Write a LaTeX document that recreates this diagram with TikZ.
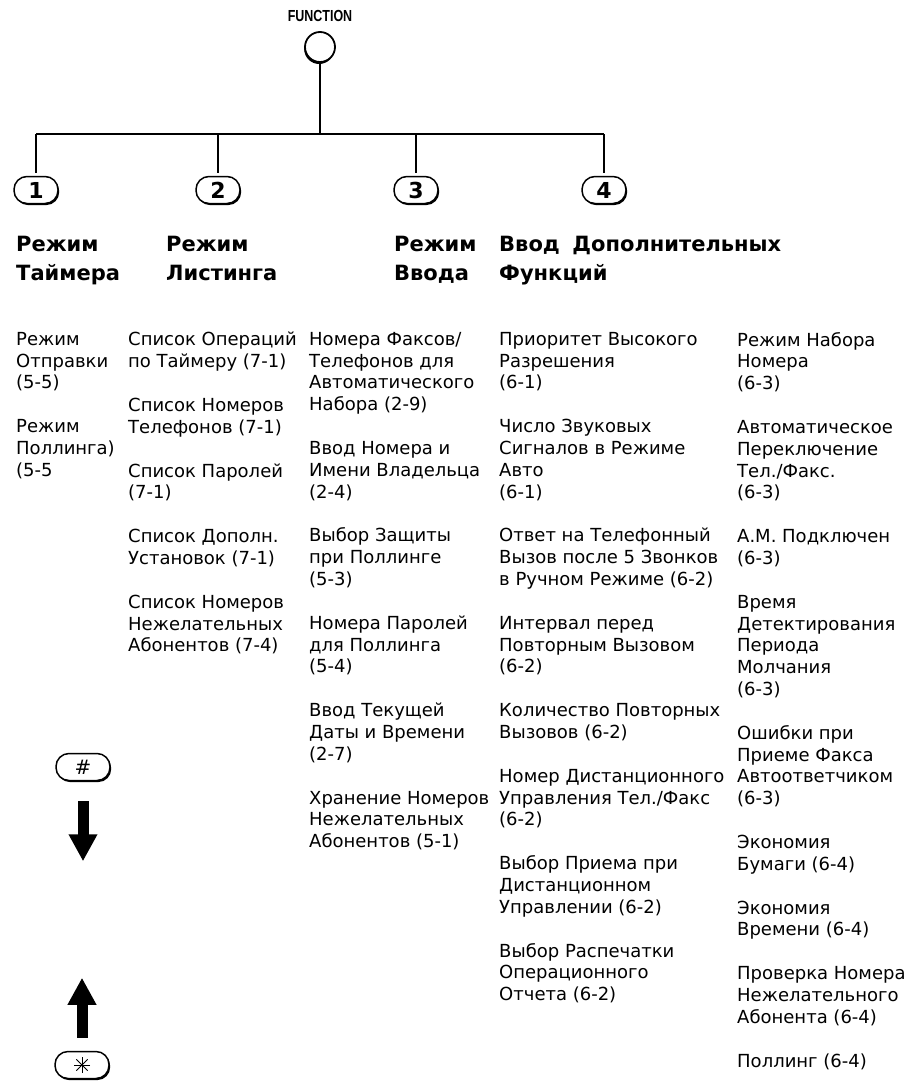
\documentclass[tikz,border=0pt]{standalone}
\usepackage{fontspec}
\setmainfont{DejaVu Sans}
\newfontfamily\keyfont{Liberation Sans}
\usetikzlibrary{shapes, arrows.meta, positioning, shadows}

\def\itemgap{22pt}

\begin{document}
\begin{tikzpicture}[x=1pt, y=-1pt,
    keycap/.style={draw, line width=1.5pt, rounded corners=13pt, fill=white,
      minimum width=44pt, minimum height=27pt, inner sep=0pt,
      drop shadow={shadow xshift=1.2pt, shadow yshift=-1.6pt, opacity=1, fill=black},
      font=\fontsize{22}{22}\selectfont\bfseries},
    modehead/.style={anchor=north west, inner sep=0pt, align=left,
      font=\fontsize{21}{29}\selectfont\bfseries},
    itemtext/.style={anchor=north west, inner sep=0pt, align=left,
      font=\fontsize{18}{21.8}\selectfont},
    bigarrow/.style={line width=11pt, -{Triangle[width=27pt, length=27pt]}}]

        % Rahmen
        \useasboundingbox (0,0) rectangle (907,1092);

        % Taste FUNCTION
        \node[font=\keyfont\bfseries\fontsize{16}{16}\selectfont] (funclabel) at (320,16) {\scalebox{0.78}[1]{FUNCTION}};
        \node[circle, draw, line width=1.8pt, minimum size=30pt, inner sep=0pt, fill=white,
          drop shadow={shadow xshift=-0.8pt, shadow yshift=-2pt, opacity=1, fill=black}] (func) at (320,47) {};

        % Tasten 1 bis 4
        \node[keycap] (k1) at (36,190) {1};
        \node[keycap] (k2) at (218,190) {2};
        \node[keycap] (k3) at (416,190) {3};
        \node[keycap] (k4) at (604,190) {4};

        % Verbindungen
        \coordinate (bus) at (320,134);
        \draw[line width=1.2pt] (func.south) -- (bus);
        \draw[line width=2.2pt] (k1.north |- bus) -- (k4.north |- bus);
        \foreach \k in {k1,k2,k3,k4}
          \draw[line width=1.4pt, shorten >=3pt] (\k.north |- bus) -- (\k.north);

        % Ueberschriften
        \node[modehead] (h1) at (16,236) {Режим\\Таймера};
        \node[modehead] (h2) at (166,236) {Режим\\Листинга};
        \node[modehead] (h3) at (394,236) {Режим\\Ввода};
        \node[modehead] (h4) at (499,236) {Ввод\hspace{0.6em}Дополнительных\\Функций};

        % Spalte 1
        \node[itemtext] (c1) at (16,332) {Режим\\Отправки\\(5-5)\\[\itemgap]Режим\\Поллинга)\\(5-5};

        % Spalte 2
        \node[itemtext] (c2) at (128,332) {Список Операций\\по Таймеру (7-1)\\[\itemgap]Список Номеров\\Телефонов (7-1)\\[\itemgap]Список Паролей\\(7-1)\\[\itemgap]Список Дополн.\\Установок (7-1)\\[\itemgap]Список Номеров\\Нежелательных\\Абонентов (7-4)};

        % Spalte 3
        \node[itemtext] (c3) at (309,332) {Номера Факсов/\\Телефонов для\\Автоматического\\Набора (2-9)\\[\itemgap]Ввод Номера и\\Имени Владельца\\(2-4)\\[\itemgap]Выбор Защиты\\при Поллинге\\(5-3)\\[\itemgap]Номера Паролей\\для Поллинга\\(5-4)\\[\itemgap]Ввод Текущей\\Даты и Времени\\(2-7)\\[\itemgap]Хранение Номеров\\Нежелательных\\Абонентов (5-1)};

        % Spalte 4
        \node[itemtext] (c4) at (499,332) {Приоритет Высокого\\Разрешения\\(6-1)\\[\itemgap]Число Звуковых\\Сигналов в Режиме\\Авто\\(6-1)\\[\itemgap]Ответ на Телефонный\\Вызов после 5 Звонков\\в Ручном Режиме (6-2)\\[\itemgap]Интервал перед\\Повторным Вызовом\\(6-2)\\[\itemgap]Количество Повторных\\Вызовов (6-2)\\[\itemgap]Номер Дистанционного\\Управления Тел./Факс\\(6-2)\\[\itemgap]Выбор Приема при\\Дистанционном\\Управлении (6-2)\\[\itemgap]Выбор Распечатки\\Операционного\\Отчета (6-2)};

        % Spalte 5
        \node[itemtext] (c5) at (737,332) {Режим Набора\\Номера\\(6-3)\\[\itemgap]Автоматическое\\Переключение\\Тел./Факс.\\(6-3)\\[\itemgap]А.М. Подключен\\(6-3)\\[\itemgap]Время\\Детектирования\\Периода\\Молчания\\(6-3)\\[\itemgap]Ошибки при\\Приеме Факса\\Автоответчиком\\(6-3)\\[\itemgap]Экономия\\Бумаги (6-4)\\[\itemgap]Экономия\\Времени (6-4)\\[\itemgap]Проверка Номера\\Нежелательного\\Абонента (6-4)\\[\itemgap]Поллинг (6-4)};

        % Tasten # und *
        \node[keycap, minimum width=54pt, font=\fontsize{20}{20}\selectfont] (hashkey) at (83,767) {\#};
        \node[keycap, minimum width=54pt] (starkey) at (82,1065) {};
        \foreach \a in {0,45,90,135}
          \draw[line width=0.9pt] (starkey.center) ++(\a:8pt) -- ++(\a+180:16pt);

        % Pfeile
        \draw[bigarrow] ([yshift=-20pt]hashkey.south) -- ++(0,60);
        \draw[bigarrow] ([yshift=13pt]starkey.north) -- ++(0,-60);
      \end{tikzpicture}
\end{document}
